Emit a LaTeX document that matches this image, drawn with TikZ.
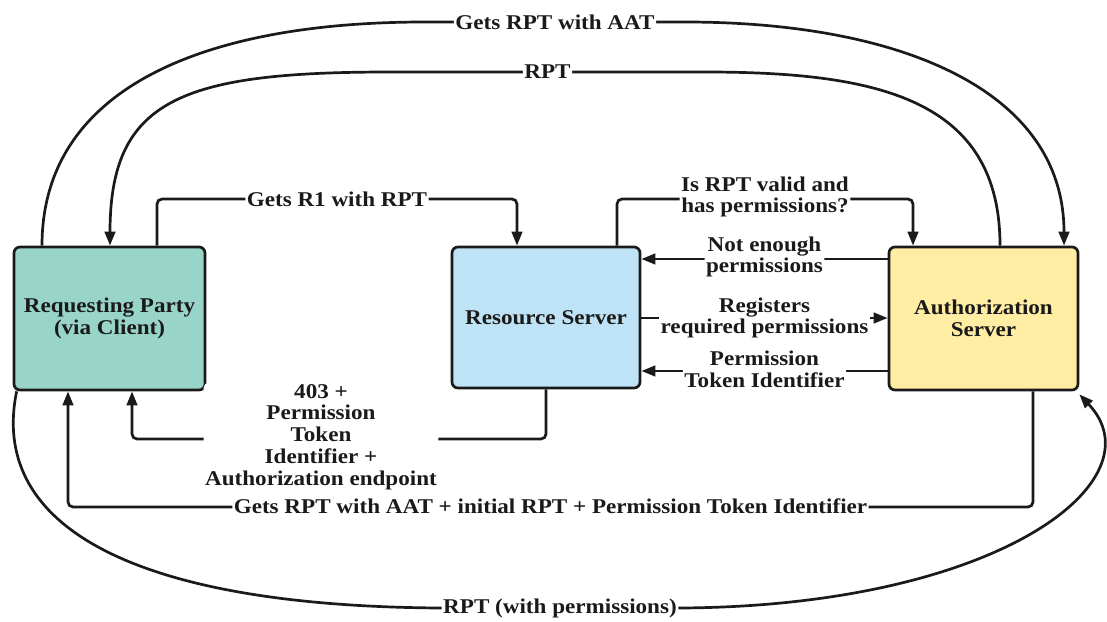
\documentclass[tikz,border=0pt]{standalone}
\usepackage{fontspec}
\setmainfont{Liberation Serif}[FakeStretch=1.10]
\usetikzlibrary{arrows.meta}
\definecolor{rpfill}{HTML}{98D5C8}
\definecolor{rsfill}{HTML}{BFE3F6}
\definecolor{asfill}{HTML}{FFEDA3}
\definecolor{ink}{HTML}{1A1A1A}
\begin{document}
\begin{tikzpicture}[x=1pt,y=-1pt,
  every node/.style={font=\fontsize{21}{21.8}\selectfont\bfseries, text=ink},
  box/.style={draw=ink, line width=2.7pt, rounded corners=6pt, inner sep=0pt, align=center},
  lbl/.style={fill=white, inner sep=1.5pt, align=center},
  conn/.style={draw=ink, line width=2.7pt, -{Triangle[length=14pt,width=10.5pt]}, rounded corners=5pt}]
\useasboundingbox (0,0) rectangle (1107,621);
\node[box, fill=rpfill, minimum width=191pt, minimum height=143pt] (rp) at (109.5,318.5) {Requesting Party\\(via Client)};
\node[box, fill=rsfill, minimum width=188pt, minimum height=141pt] (rs) at (546,317.5) {Resource Server};
\node[box, fill=asfill, minimum width=189pt, minimum height=143pt] (as) at (983.5,318.5) {Authorization\\Server};
% outer top arc
\draw[conn] (42,0 |- rp.north) .. controls (42,90) and (200,22) .. (430,22)
  -- node[lbl]{Gets RPT with AAT} (680,22)
  .. controls (900,22) and (1064,90) .. (1064,0 |- as.north);
% inner top arc
\draw[conn] (1000,0 |- as.north) .. controls (1000,100) and (880,72) .. (700,72)
  -- node[lbl]{RPT} (395,72)
  .. controls (180,72) and (110,100) .. (110,0 |- rp.north);
% Gets R1 with RPT
\draw[conn] (157,0 |- rp.north) -- (157,199) -- node[lbl]{Gets R1 with RPT} (517,199) -- (517,0 |- rs.north);
% Is RPT valid
\draw[conn] (617,0 |- rs.north) -- (617,199) -- node[lbl, yshift=2pt]{Is RPT valid and\\has permissions?} (913,199) -- (913,0 |- as.north);
% horizontal arrows
\draw[conn] (as.west |- 0,259) -- node[lbl, yshift=2pt]{Not enough\\permissions} (rs.east |- 0,259);
\draw[conn] (rs.east |- 0,318) -- node[lbl]{Registers\\required permissions} (as.west |- 0,318);
\draw[conn] (as.west |- 0,371) -- node[lbl, yshift=1.5pt]{Permission\\Token Identifier} (rs.east |- 0,371);
% 403
\draw[conn] (546,0 |- rs.south) -- (546,439) -- node[lbl, pos=0.5435, yshift=2pt]{403 +\\Permission\\Token\\Identifier +\\Authorization endpoint} (132,439) -- (132,0 |- rp.south);
% Gets RPT with AAT + initial
\draw[conn] (1033,0 |- as.south) -- (1033,507) -- node[lbl, yshift=1pt]{Gets RPT with AAT + initial RPT + Permission Token Identifier} (68,507) -- (68,0 |- rp.south);
% bottom arc
\draw[conn] ([xshift=4pt]rp.south west) .. controls (-10,520) and (120,605) .. (440,608)
  -- node[lbl]{RPT (with permissions)} (680,608)
  .. controls (1000,605) and (1160,480) .. ([yshift=-3pt]as.south east);
\end{tikzpicture}
\end{document}
